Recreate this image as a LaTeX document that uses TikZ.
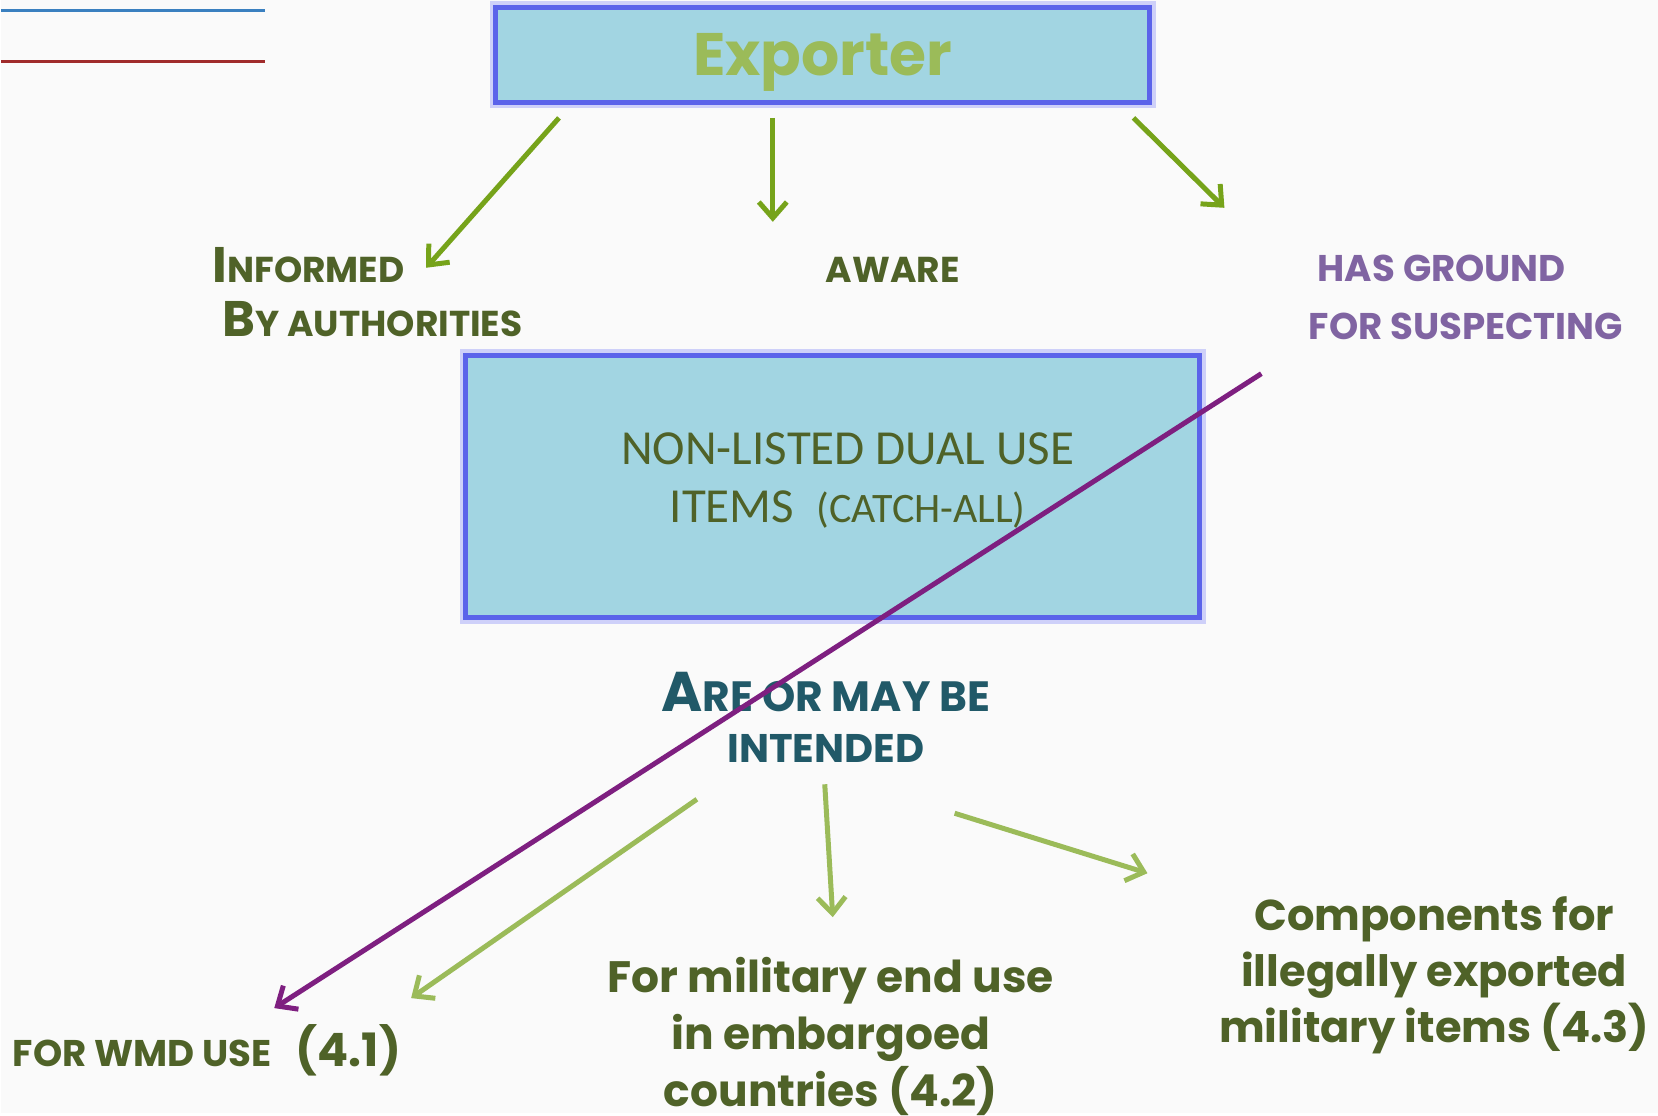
\documentclass[tikz,border=0pt]{standalone}
\usepackage{fontspec}
\newfontfamily\gothic{Poppins}
\newfontfamily\calib{Carlito}
\usetikzlibrary{arrows.meta}

\definecolor{boxfill}{HTML}{A2D5E2}
\definecolor{boxline}{HTML}{5B63EA}
\definecolor{olivedark}{HTML}{4F6228}
\definecolor{olivelight}{HTML}{9BBB59}
\definecolor{arrowgreen}{HTML}{76A31A}
\definecolor{suspect}{HTML}{8064A2}
\definecolor{tealdark}{HTML}{215968}
\definecolor{wmdline}{HTML}{7E1F80}
\definecolor{topblue}{HTML}{3A80C0}
\definecolor{topred}{HTML}{A02B2B}

\newcommand{\fs}[2]{{\fontsize{#1}{#1}\selectfont #2}}

\tikzset{
	box/.style={draw=boxline, line width=2.5pt, fill=boxfill, inner sep=0pt,
		preaction={draw=boxline!30, line width=6pt}},
	label/.style={inner sep=0pt, font=\gothic\bfseries},
	toparrow/.style={draw=arrowgreen, line width=2.5pt, -{Straight Barb[length=8pt,width=14pt]}},
	lowarrow/.style={draw=olivelight, line width=2.5pt, -{Straight Barb[length=8pt,width=14pt]}},
}

\begin{document}
\begin{tikzpicture}[x=0.5pt,y=-0.5pt]

	\fill [gray!4] (0,0) rectangle (1658,1114);%background
	\draw [topblue, line width=1.5pt] (0,11)--(264,11);%blue rule
	\draw [topred, line width=1.5pt] (0,62)--(264,62);%red rule

	\node [box, minimum width=327.5pt, minimum height=47.5pt, text=olivelight, text depth=0pt,
		font=\gothic\bfseries\fontsize{30}{30}\selectfont] (exporter) at (822,55) {Exporter};%top box
	\node [box, minimum width=367.5pt, minimum height=131.5pt] (items) at (832,487) {};%middle box
	\node [inner sep=0pt, align=center, text=olivedark, font=\calib\fontsize{24.5}{29}\selectfont]
		(itemstext) at (847,481) {NON-LISTED DUAL USE\\ITEMS\ \ \fs{21}{(CATCH-ALL)}};

	\node [label, anchor=west, align=left, text=olivedark, font=\gothic\bfseries\fontsize{18}{27}\selectfont]
		(informed) at (211,292) {\fs{25}{I}NFORMED\\\hspace{5pt}\fs{25}{B}Y AUTHORITIES};
	\node [label, text=olivedark, font=\gothic\bfseries\fontsize{18}{20}\selectfont]
		(aware) at (892,270) {AWARE};
	\node [label, anchor=west, align=left, text=suspect, font=\gothic\bfseries\fontsize{18.6}{29}\selectfont]
		(ground) at (1308,298) {\hspace{4.5pt}HAS GROUND\\FOR SUSPECTING};
	\node [label, align=center, text=tealdark, font=\gothic\bfseries\fontsize{20}{26}\selectfont]
		(intended) at (825,718) {\fs{28}{A}\fs{21.2}{RE OR MAY BE}\\INTENDED};

	\node [label, anchor=base west, text=olivedark, font=\gothic\bfseries\fontsize{18.6}{22}\selectfont]
		(wmd) at (11,1067) {FOR WMD USE\hspace{12pt}\fs{23}{(4.1)}};
	\node [label, anchor=north, align=center, text=olivedark, font=\gothic\bfseries\fontsize{22}{28.5}\selectfont]
		(military) at (830,958) {For military end use\\in embargoed\\countries (4.2)};
	\node [label, anchor=north, align=center, text=olivedark, font=\gothic\bfseries\fontsize{21.6}{28}\selectfont]
		(components) at (1434,897) {Components for\\illegally exported\\military items (4.3)};

	\coordinate (ex1) at (558,118);
	\coordinate (ex2) at (772,118);
	\coordinate (ex3) at (1133,118);
	\coordinate (to1) at (425,268);
	\coordinate (to2) at (772,222);
	\coordinate (to3) at (1224,208);
	\draw [toparrow] (ex1)--(to1);
	\draw [toparrow] (ex2)--(to2);
	\draw [toparrow] (ex3)--(to3);

	\coordinate (in1) at (696,800);
	\coordinate (in2) at (824,785);
	\coordinate (in3) at (954,814);
	\coordinate (out1) at (410,999);
	\coordinate (out2) at (832,918);
	\coordinate (out3) at (1147,874);
	\draw [lowarrow] (in1)--(out1);
	\draw [lowarrow] (in2)--(out2);
	\draw [lowarrow] (in3)--(out3);

	\coordinate (sus) at (1261,374);
	\coordinate (wmdtip) at (273,1009);
	\draw [wmdline, line width=2.5pt, -{Straight Barb[length=8pt,width=14pt]}] (sus)--(wmdtip);%suspect line
\end{tikzpicture}
\end{document}
